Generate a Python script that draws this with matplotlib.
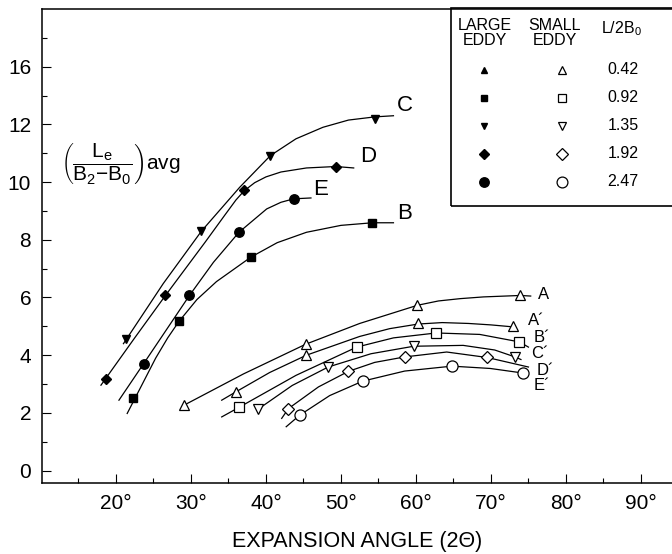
import matplotlib
matplotlib.use("Agg")
import matplotlib.pyplot as plt
from matplotlib.patches import Rectangle
from matplotlib.ticker import FixedLocator

plt.rcParams['font.family'] = ['Liberation Sans', 'DejaVu Sans']
plt.rcParams['mathtext.fontset'] = 'custom'
plt.rcParams['mathtext.rm'] = 'Liberation Sans'
plt.rcParams['mathtext.it'] = 'Liberation Sans:italic'
plt.rcParams['mathtext.bf'] = 'Liberation Sans:bold'

# ==========================================
# DATA
# ==========================================
# Large eddy curves (filled markers): measured points
c_x = [21.3, 31.4, 40.6, 54.5]
c_y = [4.57, 8.30, 10.92, 12.19]
d_x = [18.7, 26.6, 37.1, 49.3]
d_y = [3.19, 6.07, 9.73, 10.54]
e_x = [23.7, 29.8, 36.4, 43.7]
e_y = [3.71, 6.07, 8.26, 9.42]
b_x = [22.3, 28.4, 38.0, 54.2]
b_y = [2.50, 5.17, 7.40, 8.59]

# Large eddy curves: traced lines
c_line_x = [21.0, 26.3, 31.4, 36.5, 40.6, 44.0, 47.6, 51.0, 54.5, 57.0]
c_line_y = [4.40, 6.48, 8.30, 9.82, 10.92, 11.50, 11.90, 12.15, 12.26, 12.30]
d_line_x = [18.0, 22.5, 26.6, 31.9, 34.5, 36.0, 37.1, 38.5, 40.0, 42.0, 45.4, 49.3, 51.7]
d_line_y = [2.96, 4.60, 6.07, 7.92, 8.85, 9.38, 9.70, 9.98, 10.18, 10.35, 10.49, 10.54, 10.49]
e_line_x = [20.4, 23.7, 29.8, 33.0, 36.4, 40.1, 42.0, 43.7, 46.0]
e_line_y = [2.44, 3.71, 6.07, 7.22, 8.26, 9.07, 9.30, 9.42, 9.45]
b_line_x = [21.5, 25.3, 26.9, 28.4, 30.8, 33.4, 38.0, 41.5, 45.4, 50.0, 54.2, 57.0]
b_line_y = [1.98, 3.90, 4.60, 5.17, 5.93, 6.55, 7.40, 7.90, 8.26, 8.50, 8.59, 8.59]

# Small eddy curves (open markers): measured points
a_x = [29.1, 45.3, 60.2, 73.9]
a_y = [2.27, 4.38, 5.73, 6.07]
a2_x = [36.0, 45.4, 60.3, 73.0]
a2_y = [2.73, 4.00, 5.11, 5.00]
b2_x = [36.4, 52.1, 62.7, 73.8]
b2_y = [2.19, 4.28, 4.77, 4.46]
c2_x = [39.0, 48.3, 59.7, 73.2]
c2_y = [2.15, 3.59, 4.31, 3.94]
d2_x = [43.0, 51.0, 58.5, 69.5]
d2_y = [2.15, 3.44, 3.94, 3.92]
e2_x = [44.5, 52.9, 64.8, 74.3]
e2_y = [1.92, 3.10, 3.62, 3.38]

# Small eddy curves: traced lines
a_line_x = [29.1, 37.0, 45.3, 52.5, 60.2, 63.0, 65.9, 69.0, 73.9, 75.3]
a_line_y = [2.27, 3.35, 4.38, 5.10, 5.73, 5.88, 5.96, 6.02, 6.07, 6.05]
a2_line_x = [34.1, 36.0, 40.5, 45.4, 52.5, 56.5, 60.3, 63.5, 67.0, 70.0, 73.0]
a2_line_y = [2.44, 2.73, 3.40, 4.00, 4.65, 4.92, 5.08, 5.13, 5.10, 5.05, 4.98]
b2_line_x = [34.1, 36.4, 44.0, 52.1, 57.0, 62.7, 68.5, 73.8, 75.0]
b2_line_y = [1.86, 2.19, 3.30, 4.28, 4.60, 4.77, 4.72, 4.46, 4.28]
c2_line_x = [38.8, 43.5, 48.3, 54.0, 59.7, 66.3, 70.5, 73.2, 74.0]
c2_line_y = [2.10, 2.95, 3.59, 4.05, 4.31, 4.34, 4.18, 3.94, 3.85]
d2_line_x = [42.1, 43.0, 47.0, 51.0, 54.5, 58.5, 64.1, 69.5, 75.0]
d2_line_y = [1.81, 2.15, 2.90, 3.44, 3.75, 3.94, 4.11, 3.92, 3.59]
e2_line_x = [42.7, 44.5, 48.5, 52.9, 58.5, 64.8, 69.9, 74.3]
e2_line_y = [1.52, 1.92, 2.60, 3.10, 3.45, 3.62, 3.54, 3.38]

# Curve labels
big_labels = ['C', 'D', 'E', 'B']
big_label_x = [58.5, 53.6, 47.3, 58.5]
big_label_y = [12.65, 10.88, 9.74, 8.91]
small_labels = ['A', 'A\u00b4', 'B\u00b4', 'C\u00b4', 'D\u00b4', 'E\u00b4']
small_label_x = [77.0, 76.0, 76.8, 76.5, 77.2, 76.8]
small_label_y = [6.10, 5.20, 4.63, 4.06, 3.48, 2.96]

# Legend table
legend_filled = ['^', 's', 'v', 'D', 'o']
legend_open = ['^', 's', 'v', 'D', 'o']
legend_ratio = ['0.42', '0.92', '1.35', '1.92', '2.47']

# Axis ticks
x_ticks = [20, 30, 40, 50, 60, 70, 80, 90]
x_ticklabels = ['20°', '30°', '40°', '50°', '60°', '70°', '80°', '90°']
x_minor = [15, 25, 35, 45, 55, 65, 75, 85]
y_ticks = [0, 2, 4, 6, 8, 10, 12, 14]
y_ticklabels = ['0', '2', '4', '6', '8', '10', '12', '16']
y_minor = [1, 3, 5, 7, 9, 11, 13, 15]

# ==========================================
# PLOT
# ==========================================
W, H = 672, 554
fig = plt.figure(figsize=(W / 100, H / 100), dpi=100)
ax_left, ax_right, ax_top, ax_bot = 42.3, 672.0, 9.0, 482.7
ax = fig.add_axes([ax_left / W, 1 - ax_bot / H, (ax_right - ax_left) / W, (ax_bot - ax_top) / H])

lw = 0.9
big = [(c_line_x, c_line_y, c_x, c_y, 'v', 5.8),
       (d_line_x, d_line_y, d_x, d_y, 'D', 5.2),
       (e_line_x, e_line_y, e_x, e_y, 'o', 6.8),
       (b_line_x, b_line_y, b_x, b_y, 's', 5.8)]
for lx, ly, mx, my, mk, ms in big:
    ax.plot(lx, ly, color='black', lw=lw, zorder=2)
    ax.plot(mx, my, linestyle='none', marker=mk, ms=ms, color='black', zorder=3)

small = [(a_line_x, a_line_y, a_x, a_y, '^', 7.2),
         (a2_line_x, a2_line_y, a2_x, a2_y, '^', 7.2),
         (b2_line_x, b2_line_y, b2_x, b2_y, 's', 7.0),
         (c2_line_x, c2_line_y, c2_x, c2_y, 'v', 7.2),
         (d2_line_x, d2_line_y, d2_x, d2_y, 'D', 6.0),
         (e2_line_x, e2_line_y, e2_x, e2_y, 'o', 8.0)]
for lx, ly, mx, my, mk, ms in small:
    ax.plot(lx, ly, color='black', lw=lw, zorder=2)
    ax.plot(mx, my, linestyle='none', marker=mk, ms=ms, mfc='white',
            mec='black', mew=0.9, zorder=3)

for t, x, y in zip(big_labels, big_label_x, big_label_y):
    ax.text(x, y, t, fontsize=16, ha='center', va='center')
for t, x, y in zip(small_labels, small_label_x, small_label_y):
    ax.text(x, y, t, fontsize=12, ha='center', va='center')

# y-axis label drawn inside the plot
ax.text(12.7, 10.62, r'$\left(\dfrac{\mathrm{L_e}}{\mathrm{B_2{-}B_0}}\right)$avg',
        fontsize=15, ha='left', va='center')

ax.set_xlim(10.18, 10.18 + (ax_right - ax_left) / 7.5)
ax.set_ylim(-0.42, 16.0)
ax.xaxis.set_major_locator(FixedLocator(x_ticks))
ax.xaxis.set_minor_locator(FixedLocator(x_minor))
ax.set_xticklabels(x_ticklabels)
ax.yaxis.set_major_locator(FixedLocator(y_ticks))
ax.yaxis.set_minor_locator(FixedLocator(y_minor))
ax.set_yticklabels(y_ticklabels)
ax.tick_params(which='both', direction='in', width=0.8, labelsize=15, pad=8)
ax.tick_params(which='major', length=6.3)
ax.tick_params(which='minor', length=3.3)
ax.spines['right'].set_visible(False)
for s in ['left', 'bottom', 'top']:
    ax.spines[s].set_linewidth(1.1)

ax.set_xlabel('EXPANSION ANGLE (2\u0398)', fontsize=15.5, labelpad=13)

# ==========================================
# LEGEND TABLE (figure pixel layout)
# ==========================================
def fx(px):
    return px / W

def fy(py):
    return 1 - py / H

box = Rectangle((fx(451), fy(206)), fx(700) - fx(451), fy(8) - fy(206),
                transform=fig.transFigure, fill=False, lw=1.2, ec='black')
fig.add_artist(box)
fig.text(fx(485), fy(33), 'LARGE\nEDDY', fontsize=11.5, ha='center', va='center',
         linespacing=1.05)
fig.text(fx(555), fy(33), 'SMALL\nEDDY', fontsize=11.5, ha='center', va='center',
         linespacing=1.05)
fig.text(fx(621), fy(29), 'L/2B$_0$', fontsize=11.5, ha='center', va='center')

row_y = [70, 98, 126, 154, 182]
leg_ms = {'^': 5.0, 's': 5.0, 'v': 5.0, 'D': 5.5, 'o': 6.8}
for i, (mf, mo, r) in enumerate(zip(legend_filled, legend_open, legend_ratio)):
    ax.plot([fx(484)], [fy(row_y[i])], marker=mf, ms=leg_ms[mf], color='black',
            transform=fig.transFigure, clip_on=False)
    ax.plot([fx(562)], [fy(row_y[i])], marker=mo, ms=leg_ms[mo] + 1.0, mfc='white',
            mec='black', mew=0.9, transform=fig.transFigure, clip_on=False)
    fig.text(fx(623), fy(row_y[i]), r, fontsize=11.5, ha='center', va='center')

plt.savefig('out.png', dpi=100)
